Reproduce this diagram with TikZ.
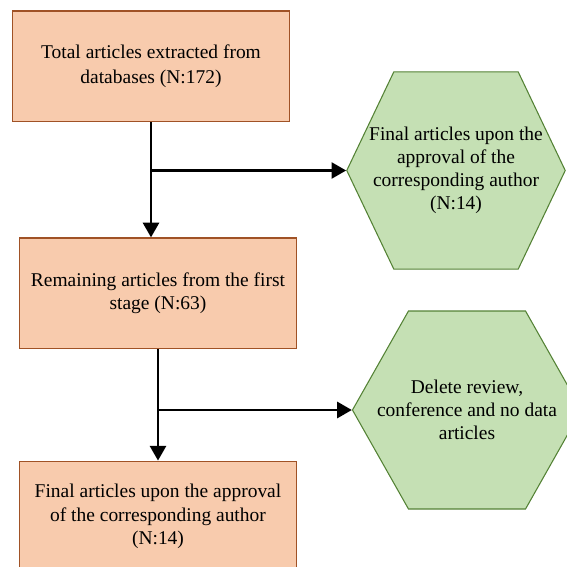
\documentclass[tikz,border=0pt]{standalone}
\usepackage{fontspec}
\setmainfont{Liberation Serif}
\usetikzlibrary{arrows.meta,shapes.symbols}

\definecolor{boxfill}{RGB}{248,203,173}
\definecolor{boxline}{RGB}{160,82,38}
\definecolor{hexfill}{RGB}{197,224,180}
\definecolor{hexline}{RGB}{84,130,53}

\tikzset{
	stagebox/.style={draw=boxline, fill=boxfill, line width=0.9pt, minimum width=208pt, minimum height=83pt, align=center, inner sep=0pt, font=\fontsize{14.6}{17.4}\selectfont},
	hexbox/.style={shape=signal, signal to=west and east, draw=hexline, fill=hexfill, line width=0.8pt, inner ysep=0pt, align=center, font=\fontsize{14.6}{17.1}\selectfont},
	flow/.style={line width=2pt, -{Triangle[width=12pt,length=11pt]}}
}

\begin{document}
\begin{tikzpicture}[x=0.75pt,y=0.75pt,yscale=-1]
	\useasboundingbox (0,0) rectangle (567,567);
	
	% stages
	\node[stagebox, font=\fontsize{14.6}{18.75}\selectfont] (total) at (151,66.3) {Total articles extracted from\\databases (N:172)};
	\node[stagebox] (remain) at (158,293.3) {Remaining articles from the first\\stage (N:63)};
	\node[stagebox] (final) at (158,516.5) {Final articles upon the approval\\of the corresponding author\\(N:14)};
	
	% side hexagons (negative xsep: the text runs past the flat top)
	\node[hexbox, signal pointer angle=129, inner xsep=-18.4pt, minimum height=147.8pt] (approval) at (456,170.5) {Final articles upon the\\approval of the\\corresponding author\\(N:14)};
	\node[hexbox, signal pointer angle=121, inner xsep=-23.6pt, minimum height=148.5pt] (delete) at (467,410) {Delete review,\\conference and no data\\articles};
	
	% connectors
	\coordinate (split1) at (total.south |- approval.west);
	\coordinate (split2) at (remain.south |- delete.west);
	\draw[flow] (total.south) -- (total.south |- remain.north);
	\draw[flow] (split1) -- (approval.west);
	\draw[flow] (remain.south) -- (final.north);
	\draw[flow] (split2) -- (delete.west);
	
\end{tikzpicture}
\end{document}
